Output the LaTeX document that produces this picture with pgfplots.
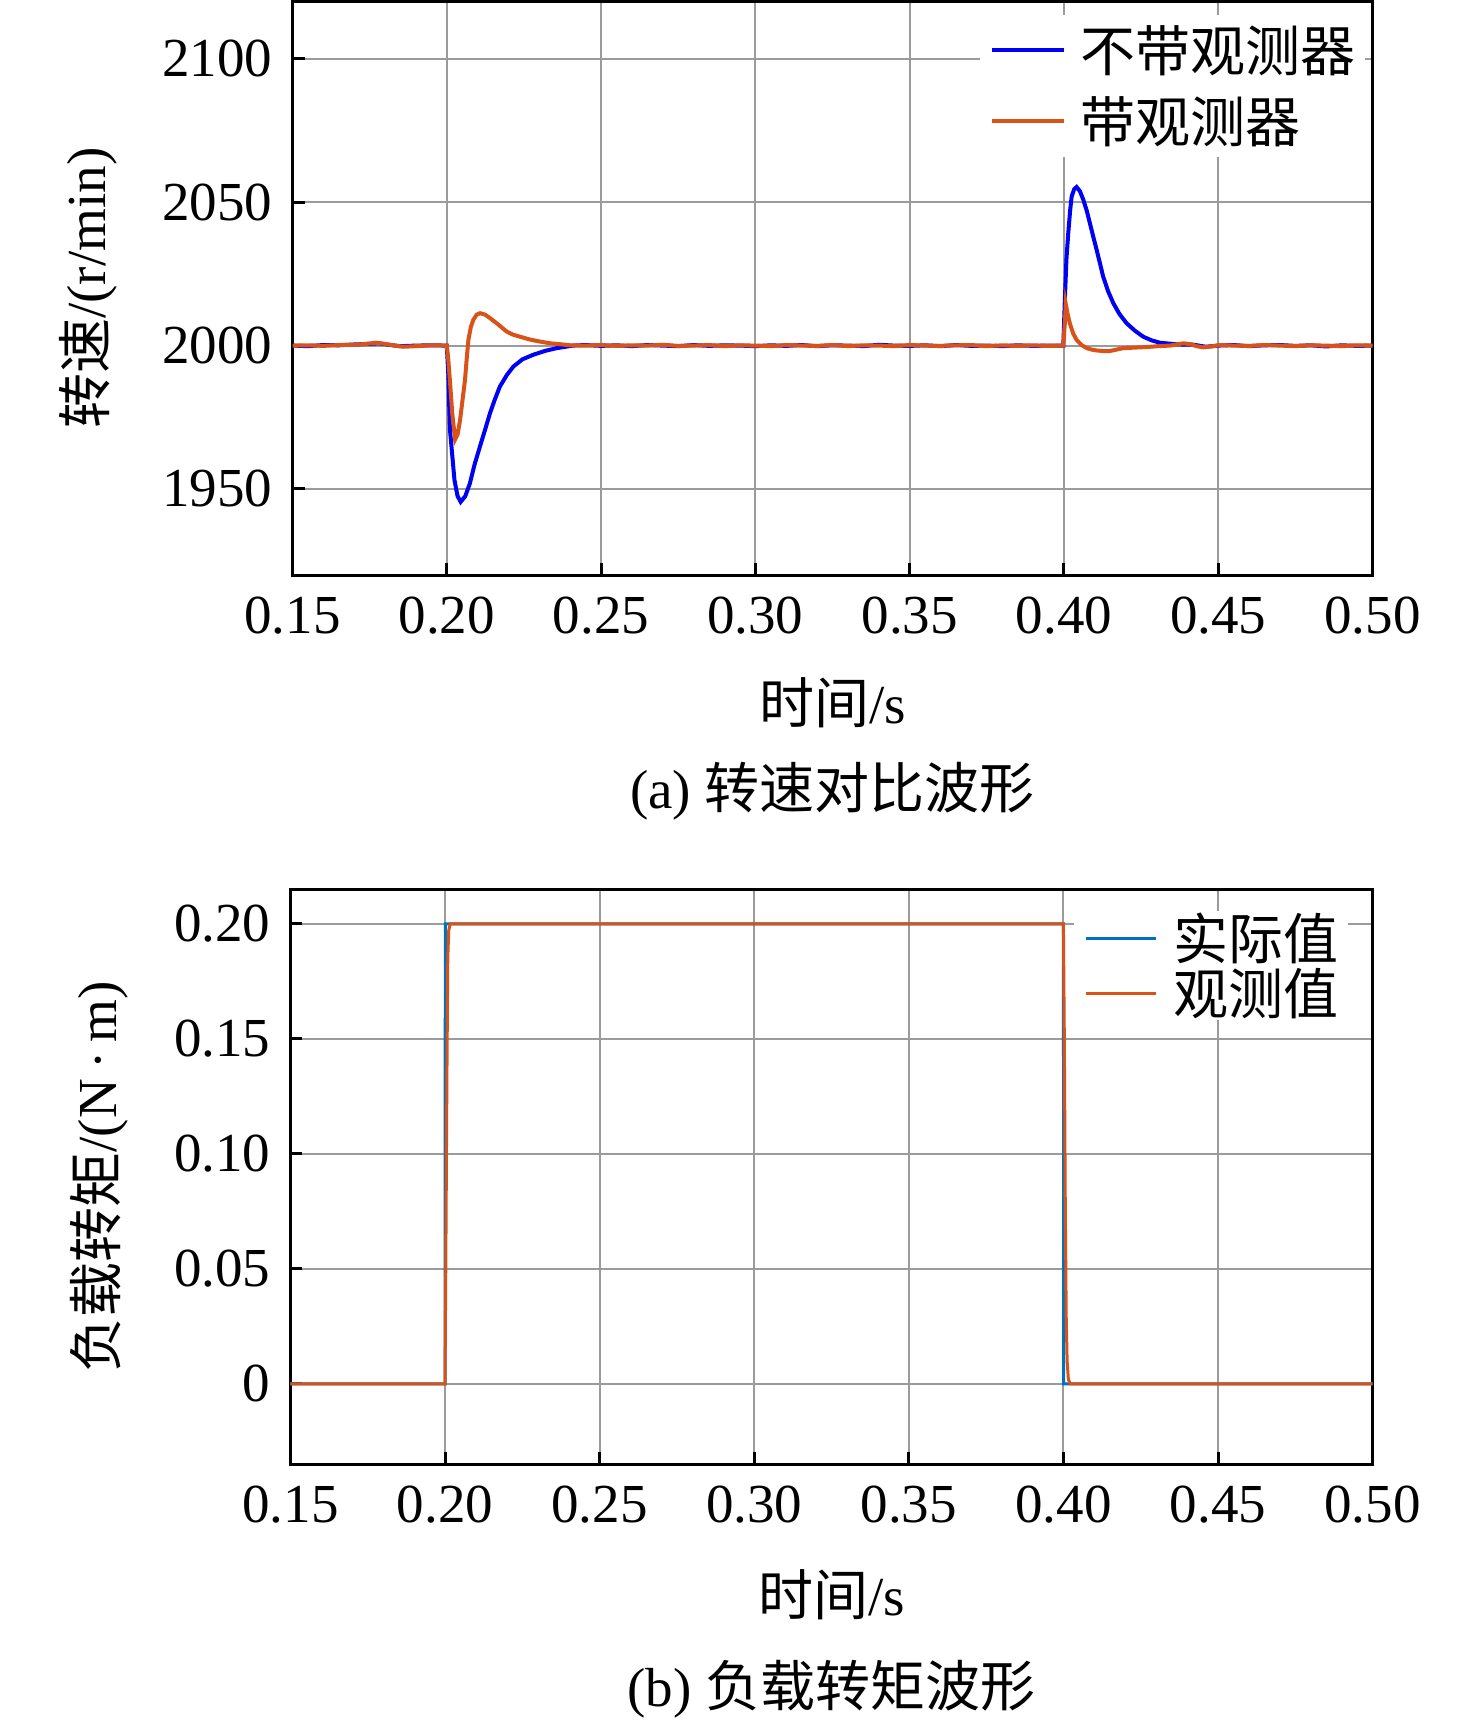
\documentclass[border=0pt]{standalone}
\usepackage{fontspec}
\setmainfont{Liberation Serif}
\newfontfamily\cjk{Noto Sans CJK SC}
\usepackage{pgfplots}
\pgfplotsset{compat=1.18}
\definecolor{gridgray}{RGB}{155,155,155}
\definecolor{mblue}{RGB}{0,0,245}
\definecolor{morange}{RGB}{217,83,25}
\definecolor{mlblue}{RGB}{0,114,189}
\newcommand{\fs}{\fontsize{27.5}{33}\selectfont}
\pgfplotsset{
  myaxis/.style={
    scale only axis,
    anchor=south west,
    font=\fs,
    ticklabel style={font=\fs},
    /pgf/number format/assume math mode=true,
    xmin=0.15, xmax=0.5,
    xtick={0.15,0.2,0.25,0.3,0.35,0.4,0.45,0.5},
    xticklabels={0.15,0.20,0.25,0.30,0.35,0.40,0.45,0.50},
    grid=major,
    major grid style={color=gridgray, line width=1pt},
    axis line style={line width=1.5pt, black},
    tick align=inside,
    xtick pos=left, ytick pos=left,
    major tick length=6pt,
    every tick/.style={black, line width=1.5pt},
    xticklabel style={yshift=-7.5pt},
    yticklabel style={xshift=-6.5pt},
    legend cell align=left,
    legend image code/.code={\draw[#1] (0pt,0pt) -- (36pt,0pt);},
  }
}
\begin{document}
\begin{tikzpicture}
\path[use as bounding box] (0,0) rectangle (738pt,-863.5pt);
\begin{axis}[myaxis,
  at={(146.25pt,-287.5pt)},
  width=540pt, height=286.75pt,
  ymin=1920, ymax=2120,
  ytick={1950,2000,2050,2100},
  yticklabels={1950,2000,2050,2100},
  xlabel={{\cjk 时间}/s},
  ylabel={{\cjk 转速}/(r/min)},
  every axis x label/.style={at={(axis description cs:0.5,-0.2232)}, anchor=center},
  every axis y label/.style={at={(axis description cs:-0.1894,0.5)}, anchor=center, rotate=90},
  legend style={at={(rel axis cs:0.6366,0.9775)}, anchor=north west, draw=none, fill=white,
    inner xsep=5pt, inner ysep=0pt, font=\cjk\fs,
    nodes={inner xsep=0pt, inner ysep=0pt, text height=28.2pt, text depth=7.3pt},
    /tikz/every odd column/.append style={column sep=7pt}},
]
\addplot[mblue, line width=2pt] coordinates {
(0.150,2000.0) (0.155,1999.8) (0.160,2000.2) (0.165,2000.1) (0.170,2000.4) (0.175,2000.6) (0.178,2000.8) (0.181,2000.3) (0.185,1999.8) (0.190,2000.0) (0.195,2000.1) (0.2000,2000.0)
(0.2005,1990) (0.2010,1971) (0.2025,1953) (0.2035,1947.5) (0.2045,1945.5) (0.2060,1947.5) (0.2075,1952) (0.2090,1958.5) (0.2108,1965) (0.2125,1971) (0.2140,1976.4) (0.2155,1981) (0.2172,1985.7) (0.2195,1989.8) (0.2216,1992.7) (0.2245,1995.2) (0.2280,1996.8) (0.2320,1998.2) (0.2356,1999.1) (0.2409,2000)
(0.245,2000.2) (0.250,1999.9) (0.255,2000.1) (0.260,1999.8) (0.265,2000.2) (0.270,2000.0) (0.275,1999.8) (0.280,2000.2) (0.285,1999.9) (0.290,2000.1) (0.295,2000.0) (0.300,1999.8) (0.305,2000.1) (0.310,1999.9) (0.315,2000.2) (0.320,1999.8) (0.325,2000.1) (0.330,2000.0) (0.335,1999.8) (0.340,2000.3) (0.345,2000.0) (0.350,1999.9) (0.355,2000.1) (0.360,1999.8) (0.365,2000.2) (0.370,1999.9) (0.375,2000.0) (0.380,1999.8) (0.385,2000.1) (0.390,1999.9) (0.395,2000.0) (0.3998,2000.0)
(0.4003,2016) (0.4008,2030) (0.4014,2039.2) (0.4020,2047) (0.4025,2052) (0.4033,2054.5) (0.4041,2055.3) (0.4052,2053.8) (0.4063,2050.8) (0.4074,2047) (0.4084,2042.7) (0.4095,2038) (0.4106,2033.4) (0.4117,2028.6) (0.4127,2024.1) (0.4143,2019) (0.4160,2014.8) (0.4180,2011) (0.4203,2007.8) (0.4230,2005.2) (0.4257,2003.1) (0.4285,2001.8) (0.4311,2001) (0.437,2000.4) (0.442,2000.3) (0.446,1999.6) (0.450,2000.0)
(0.455,2000.2) (0.460,1999.8) (0.465,2000.1) (0.470,2000.2) (0.475,1999.9) (0.480,2000.1) (0.485,1999.7) (0.490,2000.1) (0.495,1999.9) (0.500,2000.0)
};
\addlegendentry{不带观测器}
\addplot[morange, line width=2pt] coordinates {
(0.150,2000.0) (0.155,2000.1) (0.160,1999.9) (0.165,2000.2) (0.170,2000.3) (0.174,2000.6) (0.177,2001.0) (0.180,2000.6) (0.183,2000.0) (0.186,1999.6) (0.190,1999.8) (0.195,2000.1) (0.2000,2000.0)
(0.2005,1995) (0.2010,1988) (0.2018,1976) (0.2027,1967.3) (0.2035,1969) (0.2043,1974) (0.2051,1981) (0.2059,1988) (0.2065,1996) (0.2070,2002) (0.2078,2006.5) (0.2086,2009) (0.2097,2010.8) (0.2108,2011.3) (0.2124,2010.8) (0.2140,2009.6) (0.2165,2007.5) (0.2194,2004.9) (0.2215,2003.8) (0.2237,2003.1) (0.2270,2002.1) (0.2302,2001.4) (0.2335,2000.8) (0.2367,2000.5) (0.240,2000.1)
(0.245,2000.0) (0.250,2000.2) (0.255,1999.9) (0.260,2000.1) (0.265,2000.0) (0.270,2000.3) (0.275,1999.9) (0.280,2000.0) (0.285,2000.2) (0.290,1999.8) (0.295,2000.1) (0.300,2000.0) (0.305,1999.8) (0.310,2000.2) (0.315,2000.0) (0.320,1999.9) (0.325,2000.2) (0.330,1999.8) (0.335,2000.1) (0.340,2000.0) (0.345,1999.8) (0.350,2000.2) (0.355,2000.0) (0.360,1999.9) (0.365,2000.1) (0.370,2000.2) (0.375,1999.8) (0.380,2000.1) (0.385,1999.9) (0.390,2000.1) (0.395,1999.9) (0.3998,2000.0)
(0.4003,2008) (0.4006,2014.5) (0.4012,2011) (0.4019,2007.8) (0.4030,2004.2) (0.4041,2002) (0.4057,2000.2) (0.4074,1999.1) (0.4090,1998.6) (0.4106,1998.3) (0.4128,1998.1) (0.4149,1998.1) (0.4170,1998.6) (0.4192,1999.1) (0.4230,1999.3) (0.4268,1999.5) (0.4305,1999.8) (0.4344,2000.0) (0.4365,2000.4) (0.4387,2000.8) (0.4410,2000.5) (0.4430,1999.8) (0.4451,1999.4) (0.4478,1999.7) (0.4505,2000.2)
(0.455,2000.0) (0.460,1999.9) (0.465,2000.2) (0.470,2000.0) (0.475,1999.8) (0.480,2000.1) (0.485,2000.0) (0.490,1999.8) (0.495,2000.1) (0.500,2000.0)
};
\addlegendentry{带观测器}
\end{axis}
\node[font=\fs, anchor=center] at (416.25pt,-395.5pt) {(a) {\cjk 转速对比波形}};

\begin{axis}[myaxis,
  at={(145.2pt,-732.15pt)},
  width=541.1pt, height=287.5pt,
  ymin=-0.035, ymax=0.215,
  ytick={0,0.05,0.1,0.15,0.2},
  yticklabels={0,0.05,0.10,0.15,0.20},
  xlabel={{\cjk 时间}/s},
  ylabel={{\cjk 负载转矩}/(N\,·\,m)},
  every axis x label/.style={at={(axis description cs:0.5,-0.2273)}, anchor=center},
  every axis y label/.style={at={(axis description cs:-0.1769,0.5)}, anchor=center, rotate=90},
  legend image code/.code={\draw[#1] (0pt,0pt) -- (35pt,0pt);},
  legend style={at={(rel axis cs:0.7240,0.9625)}, anchor=north west, draw=none, fill=white,
    inner xsep=5pt, inner ysep=0pt, font=\cjk\fs,
    nodes={inner xsep=0pt, inner ysep=0pt, text height=24.1pt, text depth=3.2pt},
    /tikz/every odd column/.append style={column sep=8pt}},
]
\addplot[mlblue, line width=1.5pt] coordinates {
(0.15,0) (0.2,0) (0.2001,0.2) (0.4,0.2) (0.4001,0) (0.5,0)
};
\addlegendentry{实际值}
\addplot[morange, line width=1.5pt] coordinates {
(0.15,0) (0.2000,0) (0.2003,0.06) (0.2006,0.13) (0.2009,0.185) (0.2012,0.197) (0.2017,0.2) (0.4000,0.2) (0.4003,0.15) (0.4006,0.08) (0.4009,0.03) (0.4012,0.01) (0.4016,0.002) (0.4022,0) (0.5,0)
};
\addlegendentry{观测值}
\end{axis}
\node[font=\fs, anchor=center] at (415.75pt,-844.5pt) {(b) {\cjk 负载转矩波形}};
\end{tikzpicture}
\end{document}
